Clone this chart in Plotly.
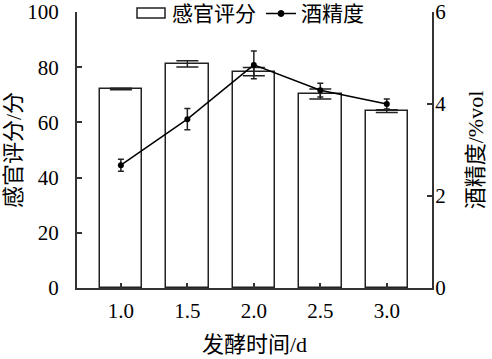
import plotly.graph_objects as go

time_d = [1.0, 1.5, 2.0, 2.5, 3.0]
sensory_score = [72.1, 81.2, 78.4, 70.3, 64.1]
sensory_err = [0.3, 1.1, 1.5, 1.8, 0.5]
alcohol = [2.67, 3.67, 4.85, 4.30, 4.00]
alcohol_err = [0.13, 0.23, 0.30, 0.15, 0.11]

FONT = "Liberation Serif, Noto Sans CJK SC, serif"
NUMFONT = dict(family="Liberation Serif", size=21, color="black")
AX = "#333"

fig = go.Figure()
fig.add_trace(go.Bar(
    x=time_d, y=sensory_score, name="感官评分", showlegend=False,
    width=0.32,
    marker=dict(color="white", line=dict(color="#222", width=1.5)),
    error_y=dict(type="data", array=sensory_err, color="#222", thickness=1.5, width=11),
))
fig.add_trace(go.Scatter(
    x=time_d, y=alcohol, name="酒精度", yaxis="y2", showlegend=False,
    mode="lines+markers",
    line=dict(color="black", width=1.5),
    marker=dict(color="black", size=6),
    error_y=dict(type="data", array=alcohol_err, color="#222", thickness=1.5, width=3),
))

# manual legend (paper coordinates relative to plot area, 355 x 276 px,
# whose origin is at (77, 288) in the figure)
W, H = 355.0, 276.0
def px(x):
    return (x - 77) / W
def py(y):
    return (288 - y) / H

shapes = [
    dict(type="rect", xref="paper", yref="paper", x0=px(137), x1=px(165), y0=py(18), y1=py(8),
         line=dict(color="#222", width=1.5), fillcolor="white"),
    dict(type="line", xref="paper", yref="paper", x0=px(266), x1=px(296), y0=py(13.5), y1=py(13.5),
         line=dict(color="black", width=1.5)),
    dict(type="circle", xref="paper", yref="paper", x0=px(278), x1=px(284), y0=py(16.5), y1=py(10.5),
         line=dict(color="black", width=1), fillcolor="black"),
]
annotations = [
    dict(text="感官评分", xref="paper", yref="paper", x=px(170), y=py(13.5), xanchor="left",
         yanchor="middle", showarrow=False, font=dict(size=21)),
    dict(text="酒精度", xref="paper", yref="paper", x=px(299), y=py(13.5), xanchor="left",
         yanchor="middle", showarrow=False, font=dict(size=21)),
    dict(text="感官评分/分", xref="paper", yref="paper", x=px(13), y=py(150), xanchor="center",
         yanchor="middle", textangle=-90, showarrow=False, font=dict(size=22)),
]

fig.update_layout(
    width=492, height=359,
    margin=dict(l=77, r=60, t=12, b=71),
    paper_bgcolor="white", plot_bgcolor="white",
    font=dict(family=FONT, size=21, color="black"),
    showlegend=False,
    shapes=shapes, annotations=annotations,
    xaxis=dict(range=[0.67, 3.34], tickvals=time_d, ticktext=["1.0", "1.5", "2.0", "2.5", "3.0"],
               ticks="inside", ticklen=5, tickwidth=1.5, tickcolor=AX, tickfont=NUMFONT,
               showline=True, linecolor=AX, linewidth=2, showgrid=False, zeroline=False,
               automargin=False, ticklabelstandoff=3, ticklabeloverflow="allow",
               title=dict(text="发酵时间/d", standoff=14, font=dict(size=22))),
    yaxis=dict(range=[0, 100], dtick=20, ticks="inside", ticklen=5, tickwidth=1.5, tickcolor=AX,
               tickfont=NUMFONT,
               showline=True, linecolor=AX, linewidth=2, showgrid=False, zeroline=False,
               automargin=False, ticklabelstandoff=12, ticklabeloverflow="allow"),
    yaxis2=dict(range=[0, 6], dtick=2, overlaying="y", side="right",
                ticks="inside", ticklen=5, tickwidth=1.5, tickcolor=AX, tickfont=NUMFONT,
                showline=True, linecolor=AX, linewidth=2, showgrid=False, zeroline=False,
                automargin=False, ticklabelstandoff=-3, ticklabeloverflow="allow",
                title=dict(text="酒精度/%vol", standoff=22, font=dict(size=22))),
    bargap=0,
)

# remove the browser's default 8px body margin so the figure sits at the page origin
fig.write_html("out.html", config={"displayModeBar": False},
               post_script="document.body.style.margin='0';")
